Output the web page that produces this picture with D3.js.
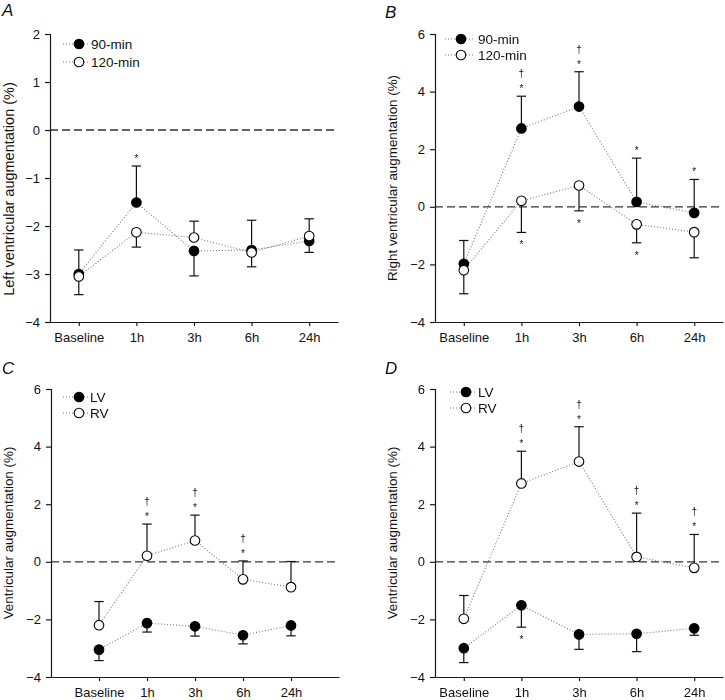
<!DOCTYPE html>
<html>
<head>
<meta charset="utf-8">
<script src="https://cdn.jsdelivr.net/npm/d3@7"></script>
<style>
  html, body { margin: 0; padding: 0; background: #fff; }
  svg { display: block; font-family: "Liberation Sans", Arial, Helvetica, sans-serif; }
  .marks { opacity: 0.999; will-change: transform; }
</style>
</head>
<body>
<svg id="chart" width="725" height="700"></svg>
<script>
// ---------------- data ----------------
const categories = ["Baseline", "1h", "3h", "6h", "24h"];

// Left ventricular augmentation (%)
const lv90    = [-3.00, -1.51, -2.52, -2.50, -2.31];
const lv90Sd  = [0.50, 0.76, 0.52, 0.62, 0.24];
const lv120   = [-3.05, -2.13, -2.24, -2.55, -2.21];
const lv120Sd = [0.38, 0.31, 0.34, 0.30, 0.36];

// Right ventricular augmentation (%)
const rv90    = [-1.98, 2.72, 3.48, 0.17, -0.21];
const rv90Sd  = [0.81, 1.12, 1.21, 1.52, 1.16];
const rv120   = [-2.20, 0.21, 0.74, -0.61, -0.88];
const rv120Sd = [0.82, 1.10, 0.88, 0.64, 0.89];

// direction of the one-sided error bars (+1 up, -1 down)
const dirA90  = [1, 1, -1, 1, -1];
const dirA120 = [-1, -1, 1, -1, 1];
const dirUp   = [1, 1, 1, 1, 1];
const dirDown = [-1, -1, -1, -1, -1];

const ticksA = [-4, -3, -2, -1, 0, 1, 2];
const ticksBCD = [-4, -2, 0, 2, 4, 6];

// significance marks: [category, series index, side, symbols]
const marksA = [["1h", 0, 1, ["*"]]];
const marksB = [["1h", 0, 1, ["*", "†"]], ["3h", 0, 1, ["*", "†"]], ["6h", 0, 1, ["*"]], ["24h", 0, 1, ["*"]],
                ["1h", 1, -1, ["*"]], ["3h", 1, -1, ["*"]], ["6h", 1, -1, ["*"]]];
const marksC = [["1h", 1, 1, ["*", "†"]], ["3h", 1, 1, ["*", "†"]], ["6h", 1, 1, ["*", "†"]]];
const marksD = [["1h", 1, 1, ["*", "†"]], ["3h", 1, 1, ["*", "†"]], ["6h", 1, 1, ["*", "†"]], ["24h", 1, 1, ["*", "†"]],
                ["1h", 0, -1, ["*"]]];

// ---------------- layout ----------------
const panels = [
  { label: "A", lx: 2, ly: 16, x0: 50, x1: 338, yTop: 34, yBot: 322, domain: [-4, 2], ticks: ticksA, pad: 0.5,
    title: "Left ventricular augmentation (%)", tx: 9, ty: 189, tsize: 14.5,
    series: [{ name: "90-min", v: lv90, sd: lv90Sd, dir: dirA90, filled: true },
             { name: "120-min", v: lv120, sd: lv120Sd, dir: dirA120, filled: false }],
    marks: marksA, leg: { x0: 63, x1: 89, mx: 79, tx: 91, ys: [44, 62] } },
  { label: "B", lx: 385, ly: 17.5, x0: 435, x1: 723, yTop: 34, yBot: 322, domain: [-4, 6], ticks: ticksBCD, pad: 0.5,
    title: "Right ventricular augmentation (%)", tx: 392.5, ty: 178, tsize: 13.4,
    series: [{ name: "90-min", v: rv90, sd: rv90Sd, dir: dirUp, filled: true },
             { name: "120-min", v: rv120, sd: rv120Sd, dir: dirDown, filled: false }],
    marks: marksB, leg: { x0: 445, x1: 475, mx: 461, tx: 478, ys: [39, 55] } },
  { label: "C", lx: 2, ly: 374, x0: 51, x1: 339, yTop: 389, yBot: 677, domain: [-4, 6], ticks: ticksBCD, pad: 1,
    title: "Ventricular augmentation (%)", tx: 8, ty: 533, tsize: 13.4,
    series: [{ name: "LV", v: lv120, sd: lv120Sd, dir: dirDown, filled: true },
             { name: "RV", v: rv120, sd: rv120Sd, dir: dirUp, filled: false }],
    marks: marksC, leg: { x0: 63, x1: 89, mx: 79, tx: 90, ys: [397, 413] } },
  { label: "D", lx: 385, ly: 374, x0: 435, x1: 723, yTop: 389, yBot: 677, domain: [-4, 6], ticks: ticksBCD, pad: 0.5,
    title: "Ventricular augmentation (%)", tx: 392.5, ty: 533, tsize: 13.4,
    series: [{ name: "LV", v: lv90, sd: lv90Sd, dir: dirDown, filled: true },
             { name: "RV", v: rv90, sd: rv90Sd, dir: dirUp, filled: false }],
    marks: marksD, leg: { x0: 450, x1: 475, mx: 466, tx: 478, ys: [392, 408] } }
];

const svg = d3.select("#chart");
const AX = "#1a1a1a";
const R = 4.8;

panels.forEach(p => {
  const g = svg.append("g");
  const x = d3.scalePoint().domain(categories).range([p.x0, p.x1]).padding(p.pad);
  const y = d3.scaleLinear().domain(p.domain).range([p.yBot, p.yTop]);

  // panel label
  g.append("text").attr("x", p.lx).attr("y", p.ly)
    .attr("font-size", 17).attr("font-style", "italic").attr("fill", "#111").text(p.label);

  // y title
  g.append("text")
    .attr("transform", `translate(${p.tx},${p.ty}) rotate(-90)`)
    .attr("text-anchor", "middle").attr("dy", "0.35em")
    .attr("font-size", p.tsize).attr("fill", "#111").text(p.title);

  // zero reference line
  g.append("line")
    .attr("x1", p.x0).attr("x2", p.x1).attr("y1", y(0)).attr("y2", y(0))
    .attr("stroke", "#333").attr("stroke-width", 1.3).attr("stroke-dasharray", "8,4");

  // axes
  const ya = g.append("g").attr("transform", `translate(${p.x0},0)`)
    .call(d3.axisLeft(y).tickValues(p.ticks).tickFormat(d3.format("d")).tickSizeInner(5).tickSizeOuter(5).tickPadding(5));
  const xa = g.append("g").attr("transform", `translate(0,${p.yBot})`)
    .call(d3.axisBottom(x).tickSizeInner(4).tickSizeOuter(0).tickPadding(7));
  [ya, xa].forEach(a => {
    a.selectAll("path, line").attr("stroke", AX).attr("stroke-width", 1.2);
    a.selectAll("text").attr("font-size", 13).attr("fill", "#111")
      .style("font-family", "'Liberation Sans', Arial, Helvetica, sans-serif");
  });

  // dotted connecting lines
  const line = d3.line().x((d, i) => x(categories[i])).y(d => y(d));
  p.series.forEach(s => {
    g.append("path").datum(s.v).attr("d", line)
      .attr("fill", "none").attr("stroke", "#777").attr("stroke-width", 1.1)
      .attr("stroke-dasharray", "1,2");
  });

  // error bars (one-sided)
  p.series.forEach(s => {
    s.v.forEach((v, i) => {
      const cx = x(categories[i]);
      const yEnd = y(v + s.dir[i] * s.sd[i]);
      g.append("line").attr("x1", cx).attr("x2", cx).attr("y1", y(v)).attr("y2", yEnd)
        .attr("stroke", "#111").attr("stroke-width", 1.2);
      g.append("line").attr("x1", cx - 4.7).attr("x2", cx + 4.7).attr("y1", yEnd).attr("y2", yEnd)
        .attr("stroke", "#111").attr("stroke-width", 1.2);
    });
  });

  // markers
  p.series.forEach(s => {
    g.selectAll(null).data(s.v).enter().append("circle")
      .attr("cx", (d, i) => x(categories[i])).attr("cy", d => y(d)).attr("r", R)
      .attr("fill", s.filled ? "#000" : "#fff").attr("stroke", "#000").attr("stroke-width", 1.1);
  });

  // significance marks
  const mg = g.append("g").attr("class", "marks");
  p.marks.forEach(([cat, si, side, syms]) => {
    const s = p.series[si];
    const i = categories.indexOf(cat);
    const yEnd = y(s.v[i] + s.dir[i] * s.sd[i]);
    syms.forEach((sym, k) => {
      const off = k === 0 ? 10 : 22;
      const cy = yEnd - side * off;
      const base = sym === "*" ? cy + 5.8 : cy + 3;
      mg.append("text").attr("x", x(cat)).attr("y", base).attr("text-anchor", "middle")
        .attr("font-size", 10).attr("fill", "#111").text(sym);
    });
  });

  // legend
  p.series.forEach((s, k) => {
    const ly = p.leg.ys[k];
    g.append("line").attr("x1", p.leg.x0).attr("x2", p.leg.x1).attr("y1", ly).attr("y2", ly)
      .attr("stroke", "#777").attr("stroke-width", 1.1).attr("stroke-dasharray", "1,2");
    g.append("circle").attr("cx", p.leg.mx).attr("cy", ly).attr("r", R)
      .attr("fill", s.filled ? "#000" : "#fff").attr("stroke", "#000").attr("stroke-width", 1.1);
    g.append("text").attr("x", p.leg.tx).attr("y", ly).attr("dy", "0.35em")
      .attr("font-size", 13.5).attr("fill", "#111").text(s.name);
  });
});
</script>
</body>
</html>
